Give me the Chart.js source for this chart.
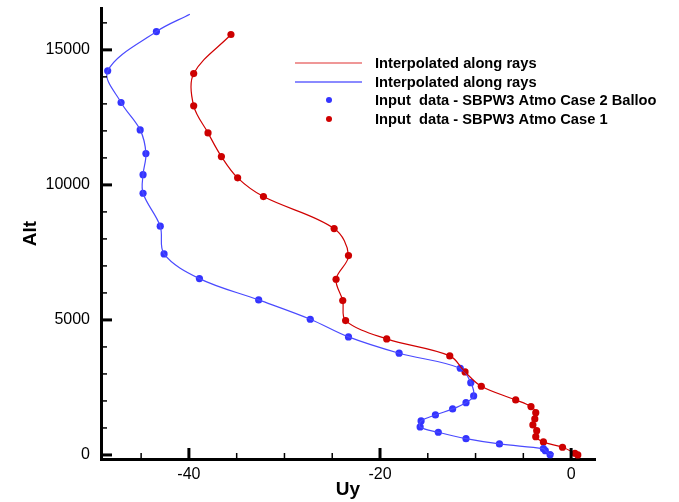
<!DOCTYPE html>
<html>
<head>
<meta charset="utf-8">
<script src="https://cdn.jsdelivr.net/npm/chart.js@4"></script>
<style>
  body { margin: 0; background: #fff; }
  canvas { display: block; }
</style>
</head>
<body>
<canvas id="profileChart" width="679" height="502"></canvas>
<script>
// Case 1 input data (red), top to bottom
const redUy  = [-35.6, -39.5, -39.5, -38.0, -36.6, -34.9, -32.2, -24.8, -23.3, -24.6, -23.9, -23.6, -19.3, -12.7, -11.1, -9.4, -5.8, -4.2, -3.7, -3.8, -4.0, -3.6, -3.7, -2.9, -0.9, 0.4, 0.7];
const redAlt = [15568, 14123, 12926, 11926, 11050, 10260, 9567, 8382, 7381, 6506, 5716, 4975, 4296, 3667, 3074, 2544, 2037, 1790, 1567, 1333, 1111, 900, 678, 481, 285, 63, 0];

// Case 2 balloon input data (blue), top to bottom
const blueUy  = [-43.4, -48.5, -47.1, -45.1, -44.5, -44.8, -44.8, -43.0, -42.6, -38.9, -32.7, -27.3, -23.3, -18.0, -11.6, -10.5, -10.2, -11.0, -12.4, -14.2, -15.7, -15.8, -13.9, -11.0, -7.5, -2.9, -2.7, -2.2];
const blueAlt = [15678, 14222, 13050, 12037, 11160, 10380, 9690, 8470, 7444, 6530, 5740, 5025, 4370, 3767, 3210, 2678, 2185, 1937, 1704, 1481, 1259, 1037, 840, 604, 407, 234, 159, 11];

// the blue interpolated curve runs a little past the input points
const blueLineStartUy = -39.9, blueLineStartAlt = 16320;
const blueLineEndUy = -1.8, blueLineEndAlt = 48;

const xTicks = [-40, -20, 0];
const xMinorTicks = [-45, -35, -30, -25, -15, -10, -5];
const yTicks = [0, 5000, 10000, 15000];
const yMinorTicks = [1000, 2000, 3000, 4000, 6000, 7000, 8000, 9000, 11000, 12000, 13000, 14000, 16000];

const legendLabels = [
  'Interpolated along rays',
  'Interpolated along rays',
  'Input  data - SBPW3 Atmo Case 2 Balloo',
  'Input  data - SBPW3 Atmo Case 1'
];

const RED = '#d00000';
const BLUE = '#3434ff';
const FONT = "'Liberation Sans', Arial, Helvetica, sans-serif";

function toPoints(xs, ys) {
  return xs.map((x, i) => ({ x: x, y: ys[i] }));
}

const redPts = toPoints(redUy, redAlt);
const bluePts = toPoints(blueUy, blueAlt);
const blueLine = [{ x: blueLineStartUy, y: blueLineStartAlt }]
  .concat(bluePts)
  .concat([{ x: blueLineEndUy, y: blueLineEndAlt }]);

// inward tick marks, legend box inside the plot
const tecplotBits = {
  id: 'tecplotBits',
  afterDraw(chart) {
    const ctx = chart.ctx;
    const xs = chart.scales.x, ys = chart.scales.y;
    const area = chart.chartArea;
    ctx.save();
    ctx.strokeStyle = '#000';

    ctx.lineWidth = 3;
    xTicks.forEach(v => {
      const px = xs.getPixelForValue(v);
      ctx.beginPath(); ctx.moveTo(px, area.bottom); ctx.lineTo(px, area.bottom - 11); ctx.stroke();
    });
    yTicks.forEach(v => {
      const py = ys.getPixelForValue(v);
      ctx.beginPath(); ctx.moveTo(area.left, py); ctx.lineTo(area.left + 11, py); ctx.stroke();
    });
    ctx.lineWidth = 1.5;
    xMinorTicks.forEach(v => {
      const px = xs.getPixelForValue(v);
      ctx.beginPath(); ctx.moveTo(px, area.bottom); ctx.lineTo(px, area.bottom - 6); ctx.stroke();
    });
    yMinorTicks.forEach(v => {
      const py = ys.getPixelForValue(v);
      ctx.beginPath(); ctx.moveTo(area.left, py); ctx.lineTo(area.left + 6, py); ctx.stroke();
    });

    // legend
    const rows = [63, 82, 100, 119];
    ctx.lineWidth = 1.2;
    ctx.strokeStyle = '#e03030';
    ctx.beginPath(); ctx.moveTo(295, rows[0]); ctx.lineTo(362, rows[0]); ctx.stroke();
    ctx.lineWidth = 2.2;
    ctx.strokeStyle = '#8a8aff';
    ctx.beginPath(); ctx.moveTo(295, rows[1]); ctx.lineTo(362, rows[1]); ctx.stroke();
    ctx.fillStyle = BLUE;
    ctx.beginPath(); ctx.arc(329, rows[2], 3, 0, Math.PI * 2); ctx.fill();
    ctx.fillStyle = RED;
    ctx.beginPath(); ctx.arc(329, rows[3], 3, 0, Math.PI * 2); ctx.fill();

    ctx.fillStyle = '#000';
    ctx.font = 'bold 14.7px ' + FONT;
    ctx.textBaseline = 'middle';
    ctx.textAlign = 'left';
    legendLabels.forEach((t, i) => ctx.fillText(t, 375, rows[i] + 1));
    ctx.restore();
  }
};

function noPad(s) {
  s.paddingTop = 0; s.paddingBottom = 0;
  s.paddingLeft = 0; s.paddingRight = 0;
}

const ctx = document.getElementById('profileChart').getContext('2d');
new Chart(ctx, {
  type: 'scatter',
  data: {
    datasets: [
      {
        label: legendLabels[0],
        data: redPts,
        showLine: true,
        borderColor: RED,
        borderWidth: 1.2,
        tension: 0.35,
        pointRadius: 0
      },
      {
        label: legendLabels[1],
        data: blueLine,
        showLine: true,
        borderColor: '#4a4aff',
        borderWidth: 1.2,
        tension: 0.35,
        pointRadius: 0
      },
      {
        label: legendLabels[2],
        data: bluePts,
        showLine: false,
        backgroundColor: BLUE,
        borderWidth: 0,
        pointRadius: 3.6
      },
      {
        label: legendLabels[3],
        data: redPts,
        showLine: false,
        backgroundColor: '#cc0000',
        borderWidth: 0,
        pointRadius: 3.6
      }
    ]
  },
  options: {
    responsive: false,
    animation: false,
    clip: false,
    layout: { padding: { top: 8, right: 84, left: 0, bottom: 0 } },
    plugins: {
      legend: { display: false },
      tooltip: { enabled: false }
    },
    scales: {
      x: {
        type: 'linear',
        min: -49.2,
        max: 2.5,
        afterBuildTicks: s => { s.ticks = xTicks.map(v => ({ value: v })); },
        afterFit: s => { s.height = 43; noPad(s); },
        grid: { display: false, drawTicks: false },
        border: { display: true, color: '#000', width: 3 },
        ticks: {
          color: '#000',
          padding: 6,
          maxRotation: 0,
          font: { family: FONT, size: 16 },
          callback: v => String(v)
        },
        title: {
          display: true,
          text: 'Uy',
          color: '#000',
          padding: { top: 0, bottom: 1 },
          font: { family: FONT, size: 19, weight: 'bold' }
        }
      },
      y: {
        type: 'linear',
        min: -150,
        max: 16550,
        afterBuildTicks: s => { s.ticks = yTicks.map(v => ({ value: v })); },
        afterFit: s => { s.width = 101; noPad(s); },
        grid: { display: false, drawTicks: false },
        border: { display: true, color: '#000', width: 3 },
        ticks: {
          color: '#000',
          padding: 11,
          font: { family: FONT, size: 16 },
          callback: v => String(v)
        },
        title: {
          display: true,
          text: 'Alt',
          color: '#000',
          padding: { top: 19, bottom: 0 },
          font: { family: FONT, size: 19, weight: 'bold' }
        }
      }
    }
  },
  plugins: [tecplotBits]
});
</script>
</body>
</html>
